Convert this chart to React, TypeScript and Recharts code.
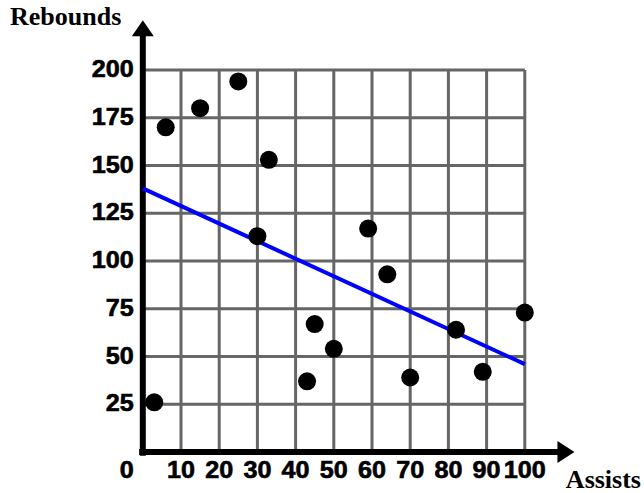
import React from 'react';
import { ComposedChart, Scatter, Line, XAxis, YAxis, CartesianGrid, ReferenceLine } from 'recharts';

const assists = [3, 6, 15, 25, 33, 30, 59, 64, 45, 50, 43, 70, 82, 89, 100];
const rebounds = [26, 170, 180, 194, 153, 113, 117, 93, 67, 54, 37, 39, 64, 42, 73];
const trendAssists = [0, 100];
const trendRebounds = [138, 46];
const xTicks = [0, 10, 20, 30, 40, 50, 60, 70, 80, 90, 100];
const yTicks = [0, 25, 50, 75, 100, 125, 150, 175, 200];
const xTitle = 'Assists';
const yTitle = 'Rebounds';

const points = assists.map((a, i) => ({ x: a, y: rebounds[i] }));
const trend = trendAssists.map((a, i) => ({ x: a, y: trendRebounds[i] }));

const W = 644;
const H = 493;
const numFont = '"Liberation Sans", Arial, sans-serif';
const titleFont = '"Liberation Serif", "Times New Roman", serif';

const XTick = (props: any) => {
  const { x, y, payload } = props;
  const v = payload.value;
  const s = String(v);
  const cx = v === 0 ? x - 16 : x;
  return (
    <text x={cx} y={y + 26} textAnchor="middle" fontFamily={numFont} fontWeight="bold" fontSize={23}
      fill="#000" stroke="#000" strokeWidth={0.6} textLength={s.length * 14} lengthAdjust="spacingAndGlyphs">{s}</text>
  );
};

const YTick = (props: any) => {
  const { x, y, payload } = props;
  const v = payload.value;
  if (v === 0) return null;
  const s = String(v);
  return (
    <text x={x - 9} y={y + 7} textAnchor="end" fontFamily={numFont} fontWeight="bold" fontSize={23}
      fill="#000" stroke="#000" strokeWidth={0.6} textLength={s.length * 14} lengthAdjust="spacingAndGlyphs">{s}</text>
  );
};

const XArrow = (props: any) => {
  const { x1, y1, x2, y2 } = props;
  const len = 17;
  return (
    <g>
      <line x1={x1} y1={y1} x2={x2 - len + 1} y2={y2} stroke="#000" strokeWidth={6} />
      <polygon points={`${x2},${y2} ${x2 - len},${y2 - 11} ${x2 - len},${y2 + 11}`} fill="#000" />
    </g>
  );
};

const YArrow = (props: any) => {
  const { x1, y1, x2, y2 } = props;
  const len = 16;
  const tipY = Math.min(y1, y2);
  const botY = Math.max(y1, y2);
  return (
    <g>
      <line x1={x1} y1={botY} x2={x2} y2={tipY + len - 1} stroke="#000" strokeWidth={6} />
      <polygon points={`${x1},${tipY} ${x1 - 11},${tipY + len} ${x1 + 11},${tipY + len}`} fill="#000" />
    </g>
  );
};

const Dot = (props: any) => {
  const { cx, cy } = props;
  return <circle cx={cx} cy={cy} r={9} fill="#000" />;
};

export default function App() {
  return (
    <div style={{ position: 'absolute', left: 0, top: 0, width: W, height: H, background: '#fff' }}>
      <ComposedChart width={W} height={H} margin={{ top: 70, right: 119.2, bottom: 0, left: 0 }}>
        <CartesianGrid stroke="#666666" strokeWidth={3} />
        <XAxis type="number" dataKey="x" domain={[0, 100]} ticks={xTicks} height={41}
          axisLine={false} tickLine={false} tickSize={0} tickMargin={0} tick={<XTick />} interval={0} />
        <YAxis type="number" dataKey="y" domain={[0, 200]} ticks={yTicks} width={142.8}
          axisLine={false} tickLine={false} tickSize={0} tickMargin={0} tick={<YTick />} interval={0} />
        <ReferenceLine segment={[{ x: -0.95, y: 0 }, { x: 113, y: 0 }]} ifOverflow="visible" shape={XArrow} />
        <ReferenceLine segment={[{ x: 0, y: -1.9 }, { x: 0, y: 226 }]} ifOverflow="visible" shape={YArrow} />
        <Line data={trend} dataKey="y" type="linear" stroke="#0000ff" strokeWidth={4} dot={false}
          activeDot={false} isAnimationActive={false} />
        <Scatter data={points} dataKey="y" shape={Dot} isAnimationActive={false} />
      </ComposedChart>
      <svg width={W} height={H} style={{ position: 'absolute', left: 0, top: 0, pointerEvents: 'none' }}>
        <text x={10} y={25} fontFamily={titleFont} fontWeight="bold" fontSize={26} fill="#000">{yTitle}</text>
        <text x={641} y={488} textAnchor="end" fontFamily={titleFont} fontWeight="bold" fontSize={26} fill="#000">{xTitle}</text>
      </svg>
    </div>
  );
}
